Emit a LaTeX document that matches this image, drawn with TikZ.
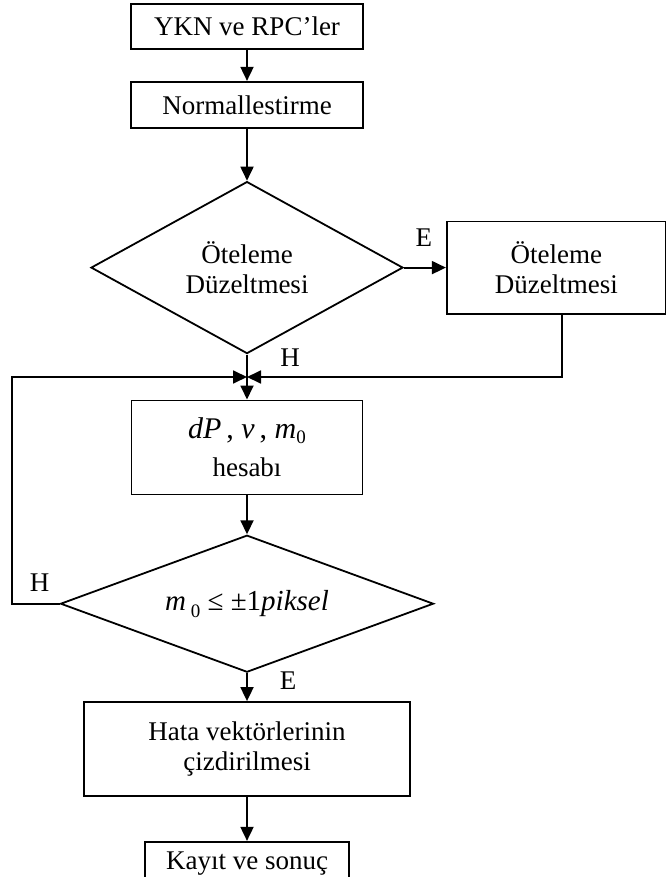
\documentclass[tikz,border=0pt]{standalone}
\usepackage{fontspec}
\setmainfont{Liberation Serif}
\usetikzlibrary{shapes.geometric, arrows.meta, positioning, calc}

\begin{document}
\begin{tikzpicture}[
        x=1pt, y=-1pt,
        every node/.style={font=\fontsize{27}{30}\selectfont},
        box/.style={draw, rectangle, line width=1.8pt, align=center, inner sep=0pt},
        dec/.style={draw, diamond, line width=1.8pt, align=center, inner sep=0pt},
        arrow/.style={-{Triangle[length=14pt, width=13pt]}, line width=1.8pt},
        lbl/.style={inner sep=0pt, anchor=base}
    ]
        \useasboundingbox (0,0) rectangle (665,877);

        % Nodes
        \node[box, minimum width=232pt, minimum height=45pt] (ykn) at (247,26.5) {YKN ve RPC’ler};
        \node[box, minimum width=232pt, minimum height=46pt, below=31pt of ykn] (norm) {Normallestirme};
        \node[dec, aspect=1.81, minimum width=312pt, minimum height=172pt, below=52pt of norm] (dec1) {Öteleme\\Düzeltmesi};
        \node[box, minimum width=219pt, minimum height=92pt, right=42pt of dec1] (shift) {Öteleme\\Düzeltmesi};
        \node[box, minimum width=231pt, minimum height=94pt, below=45pt of dec1] (hesap) {\fontsize{30}{30}\selectfont\textit{dP}\,, \textit{v}\,, \textit{m}\raisebox{-5pt}{\fontsize{19}{19}\selectfont 0}\\[8pt]hesabı};
        \node[dec, aspect=2.72, minimum width=373pt, minimum height=137pt, below=39pt of hesap] (dec2) {\fontsize{29}{30}\selectfont\textit{m}\,\raisebox{-7pt}{\fontsize{19}{19}\selectfont 0} ≤ ±1\textit{piksel}};
        \node[box, minimum width=326pt, minimum height=94pt, below=28pt of dec2] (hata) {Hata vektörlerinin\\çizdirilmesi};
        \node[box, minimum width=204pt, minimum height=43pt, below=44pt of hata] (kayit) {Kayıt ve sonuç};
        \coordinate (join) at ($(dec1.south)!0.5!(hesap.north)$);

        % Labels
        \node[lbl] (e1) at ([xshift=20pt, yshift=21pt]dec1.east) {E};
        \node[lbl] (h1) at ([xshift=43pt, yshift=-12pt]dec1.south) {H};
        \node[lbl] (h2) at ([xshift=-20pt, yshift=12pt]dec2.west) {H};
        \node[lbl] (e2) at ([xshift=41pt, yshift=-16pt]dec2.south) {E};

        % Arrows
        \draw[arrow] (ykn) -- (norm);
        \draw[arrow] (norm) -- (dec1);
        \draw[arrow] (dec1) -- (shift);
        \draw[arrow] (dec1) -- (hesap);
        \draw[arrow] ([xshift=6pt]shift.south) |- (join);
        \draw[arrow] (dec2.west) -- ++(-48,0) |- (join);
        \draw[arrow] (hesap) -- (dec2);
        \draw[arrow] (dec2) -- (hata);
        \draw[arrow] (hata) -- (kayit);
    \end{tikzpicture}
\end{document}
